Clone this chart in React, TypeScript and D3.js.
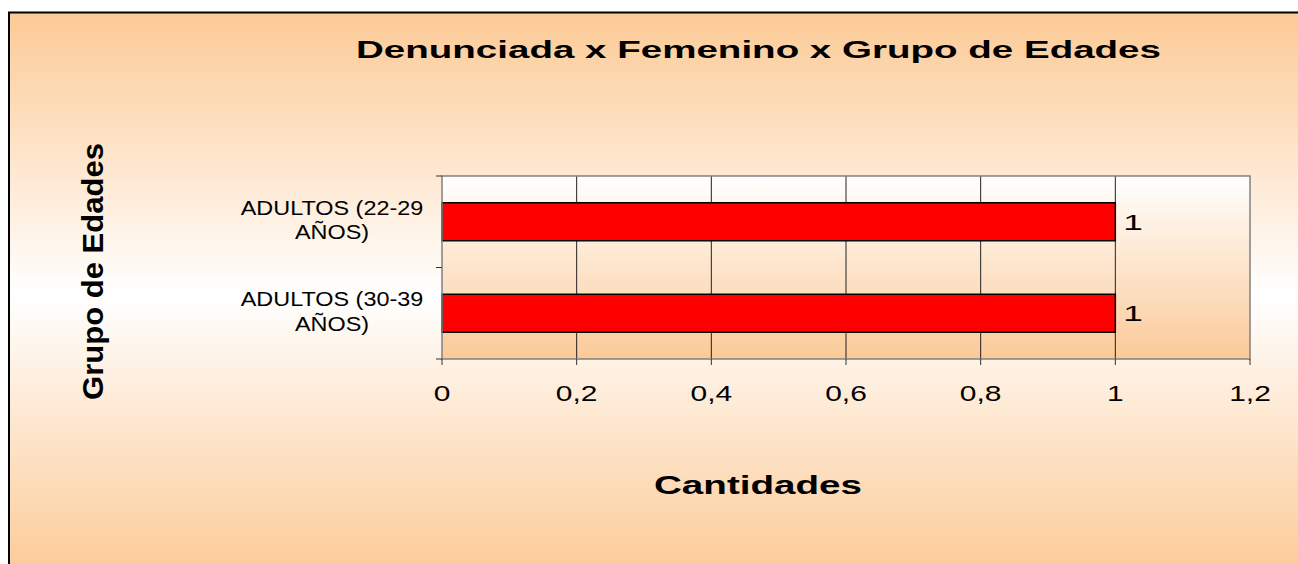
import React, { useEffect, useRef } from 'react';
import * as d3 from 'd3';

// chart data
const categories = ['ADULTOS (22-29 AÑOS)', 'ADULTOS (30-39 AÑOS)'];
const categoryLines = [['ADULTOS (22-29', 'AÑOS)'], ['ADULTOS (30-39', 'AÑOS)']];
const values = [1, 1];
const xTicks = [0, 0.2, 0.4, 0.6, 0.8, 1, 1.2];
const titleText = 'Denunciada x Femenino x Grupo de Edades';
const xTitleText = 'Cantidades';
const yTitleText = 'Grupo de Edades';

const FONT = '"Liberation Sans", Arial, sans-serif';

// stretch text horizontally by a factor (source picture has wide lettering)
const stretch = (sel, factor) => {
  sel.each(function () {
    const w = this.getComputedTextLength();
    d3.select(this).attr('textLength', w * factor).attr('lengthAdjust', 'spacingAndGlyphs');
  });
};

const fit = (sel, width) => {
  sel.attr('textLength', width).attr('lengthAdjust', 'spacingAndGlyphs');
};

const App = () => {
  const svgRef = useRef(null);

  useEffect(() => {
    const W = 1298;
    const H = 564;
    const plot = { left: 442, right: 1250, top: 176, bottom: 359 };

    const svg = d3.select(svgRef.current).attr('width', W).attr('height', H);
    svg.selectAll('*').remove();

    const defs = svg.append('defs');
    const bg = defs.append('linearGradient').attr('id', 'bgGrad')
      .attr('x1', 0).attr('y1', 0).attr('x2', 0).attr('y2', 1);
    bg.append('stop').attr('offset', '0%').attr('stop-color', '#FCCA96');
    bg.append('stop').attr('offset', '50%').attr('stop-color', '#FFFFFF');
    bg.append('stop').attr('offset', '100%').attr('stop-color', '#FCCA96');

    const pg = defs.append('linearGradient').attr('id', 'plotGrad')
      .attr('x1', 0).attr('y1', 0).attr('x2', 0).attr('y2', 1);
    pg.append('stop').attr('offset', '0%').attr('stop-color', '#FFFFFF');
    pg.append('stop').attr('offset', '100%').attr('stop-color', '#FBCA98');

    // chart area
    svg.append('rect')
      .attr('x', 9).attr('y', 12.5)
      .attr('width', W + 10).attr('height', H)
      .attr('fill', 'url(#bgGrad)')
      .attr('stroke', '#000')
      .attr('stroke-width', 2);

    const x = d3.scaleLinear().domain([0, 1.2]).range([plot.left, plot.right]);
    const y = d3.scaleBand()
      .domain(categories)
      .range([plot.top, plot.bottom])
      .paddingInner(0.585)
      .paddingOuter(0.2925);

    // plot area
    svg.append('rect')
      .attr('x', plot.left).attr('y', plot.top)
      .attr('width', plot.right - plot.left).attr('height', plot.bottom - plot.top)
      .attr('fill', 'url(#plotGrad)');

    // gridlines
    svg.append('g')
      .selectAll('line')
      .data(xTicks.slice(1, -1))
      .enter()
      .append('line')
      .attr('x1', d => x(d)).attr('x2', d => x(d))
      .attr('y1', plot.top).attr('y2', plot.bottom)
      .attr('stroke', '#222')
      .attr('stroke-width', 1);

    // bars
    svg.append('g')
      .selectAll('rect')
      .data(values)
      .enter()
      .append('rect')
      .attr('x', x(0))
      .attr('y', (d, i) => y(categories[i]))
      .attr('width', d => x(d) - x(0))
      .attr('height', y.bandwidth())
      .attr('fill', '#FF0000')
      .attr('stroke', '#000')
      .attr('stroke-width', 1.5);

    // plot border
    svg.append('rect')
      .attr('x', plot.left).attr('y', plot.top)
      .attr('width', plot.right - plot.left).attr('height', plot.bottom - plot.top)
      .attr('fill', 'none')
      .attr('stroke', '#808080')
      .attr('stroke-width', 1.5);

    // x ticks
    svg.append('g')
      .selectAll('line')
      .data(xTicks)
      .enter()
      .append('line')
      .attr('x1', d => x(d)).attr('x2', d => x(d))
      .attr('y1', plot.bottom).attr('y2', plot.bottom + 6)
      .attr('stroke', '#333');

    const xLabels = svg.append('g')
      .selectAll('text')
      .data(xTicks)
      .enter()
      .append('text')
      .attr('x', d => x(d))
      .attr('y', plot.bottom + 42)
      .attr('text-anchor', 'middle')
      .attr('font-family', FONT)
      .attr('font-size', 22)
      .attr('fill', '#000')
      .text(d => String(+d.toFixed(1)).replace('.', ','));
    stretch(xLabels, 1.36);

    // y ticks at band edges
    svg.append('g')
      .selectAll('line')
      .data(d3.range(categories.length + 1))
      .enter()
      .append('line')
      .attr('x1', plot.left - 6).attr('x2', plot.left)
      .attr('y1', i => plot.top + i * y.step())
      .attr('y2', i => plot.top + i * y.step())
      .attr('stroke', '#333');

    // category labels (two lines each)
    categories.forEach((c, i) => {
      const cy = y(c) + y.bandwidth() / 2;
      const lines = svg.append('g')
        .selectAll('text')
        .data(categoryLines[i])
        .enter()
        .append('text')
        .attr('x', plot.left - 110)
        .attr('y', (d, j) => cy - 7 + j * 24.5)
        .attr('text-anchor', 'middle')
        .attr('font-family', FONT)
        .attr('font-size', 19.5)
        .attr('fill', '#000')
        .text(d => d);
      stretch(lines, 1.2);
    });

    // value labels
    const valLabels = svg.append('g')
      .selectAll('text')
      .data(values)
      .enter()
      .append('text')
      .attr('x', d => x(d) + 8)
      .attr('y', (d, i) => y(categories[i]) + y.bandwidth() / 2 + 8)
      .attr('font-family', FONT)
      .attr('font-size', 22)
      .attr('fill', '#000')
      .text(d => d);
    stretch(valLabels, 1.6);

    // titles
    const title = svg.append('text')
      .attr('x', 758.5).attr('y', 58)
      .attr('text-anchor', 'middle')
      .attr('font-family', FONT)
      .attr('font-weight', 'bold')
      .attr('font-size', 24.5)
      .text(titleText);
    fit(title, 805);

    const xTitle = svg.append('text')
      .attr('x', 758).attr('y', 494)
      .attr('text-anchor', 'middle')
      .attr('font-family', FONT)
      .attr('font-weight', 'bold')
      .attr('font-size', 26)
      .text(xTitleText);
    fit(xTitle, 208);

    const yTitle = svg.append('text')
      .attr('transform', 'translate(103,271.5) rotate(-90)')
      .attr('text-anchor', 'middle')
      .attr('font-family', FONT)
      .attr('font-weight', 'bold')
      .attr('font-size', 29)
      .text(yTitleText);
    fit(yTitle, 257);
  }, []);

  return (
    <svg ref={svgRef} style={{ position: 'absolute', left: 0, top: 0, display: 'block' }}></svg>
  );
};

export default App;
